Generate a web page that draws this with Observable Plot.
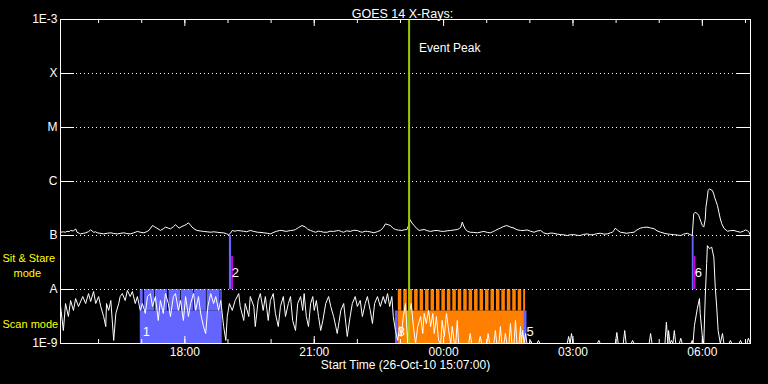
<!DOCTYPE html>
<html><head><meta charset="utf-8">
<script src="https://cdn.jsdelivr.net/npm/d3@7"></script>
<script src="https://cdn.jsdelivr.net/npm/@observablehq/plot@0.6"></script>
<style>html,body{margin:0;padding:0;background:#000;overflow:hidden}</style>
</head><body><div id="chart"></div>
<script>
// ---------- data ----------
const startUTC = Date.UTC(2010, 9, 26, 15, 7);   // 26-Oct-10 15:07:00
const spanMinutes = 960;
const titleText = "GOES 14 X-Rays:";
const xLabelText = "Start Time (26-Oct-10 15:07:00)";
const decadeValues = [1e-9, 1e-8, 1e-7, 1e-6, 1e-5, 1e-4, 1e-3];
const decadeLabels = ["1E-9", "A", "B", "C", "M", "X", "1E-3"];
const timeTickLabels = ["18:00", "21:00", "00:00", "03:00", "06:00"];
const timeTickMinutes = [173, 353, 533, 713, 893];          // minutes after start
const hourTickMinutes = [53,113,173,233,293,353,413,473,533,593,653,713,773,833,893,953];
const peakMinute = 485;                                      // 23:12 event peak

// long channel (1-8 A), [minutes after start, flux in 1e-9 W/m^2]
const longChannel = [
[0,115],[4,117],[7,115],[9,120],[12,118],[14,124],[18,121],[21,133],[23,115],[26,110],[28,107],[32,110],[35,112],[39,118],[42,127],[46,115],[49,117],[51,112],[55,110],[60,107],[65,110],[70,112],[74,109],[79,107],[84,110],[88,112],[92,109],[97,107],[102,112],[107,119],[111,115],[116,112],[120,118],[123,124],[128,153],[131,145],[134,137],[139,124],[143,133],[146,143],[150,137],[153,133],[157,145],[160,158],[165,137],[169,147],[172,153],[175,160],[178,172],[181,155],[183,143],[187,130],[190,124],[195,121],[199,119],[204,117],[209,115],[213,117],[218,115],[222,113],[227,112],[231,108],[234,103],[237,112],[239,124],[243,120],[246,124],[250,122],[255,120],[259,117],[264,124],[269,119],[274,115],[279,114],[283,112],[288,110],[292,107],[297,115],[301,120],[305,124],[308,124],[314,119],[320,124],
[324,125],[327,129],[331,140],[336,153],[341,143],[344,130],[348,124],[352,118],[355,115],[359,120],[362,119],[366,115],[371,115],[375,120],[380,119],[384,122],[387,124],[391,118],[394,115],[398,122],[403,119],[408,125],[413,124],[417,117],[420,115],[424,120],[427,119],[432,116],[436,112],[441,118],[445,124],[449,140],[452,164],[456,158],[459,153],[463,135],[466,129],[470,126],[475,124],[479,128],[482,129],[484,150],[486,198],[489,170],[492,153],[496,133],[499,124],[503,127],[506,129],[511,122],[515,119],[520,123],[524,124],[529,120],[533,119],[538,122],[543,124],[548,127],[552,129],[555,135],[557,143],[559,177],[561,150],[563,133],[566,120],[570,115],[575,114],[580,112],[585,116],[589,119],[594,114],[598,112],[602,118],[605,124],[609,132],[612,137],[616,146],[621,153],[626,143],[631,137],[635,128],[640,124],
[645,124],[649,127],[654,120],[659,115],[663,121],[668,124],[672,112],[677,107],[682,111],[686,110],[691,106],[696,104],[700,103],[705,100],[709,103],[714,104],[719,101],[723,100],[728,105],[733,107],[737,103],[742,104],[746,108],[751,110],[756,106],[761,107],[765,112],[768,115],[770,125],[772,137],[775,125],[779,115],[784,112],[788,110],[793,113],[798,115],[802,127],[807,137],[811,141],[816,143],[821,138],[826,133],[830,122],[835,115],[840,110],[844,107],[849,105],[853,104],[858,102],[863,100],[867,106],[872,110],[876,104],[879,100],[881,252],[883,270],[886,255],[888,235],[891,180],[893,153],[895,143],[897,200],[898,335],[900,520],[901,681],[903,733],[905,700],[907,681],[909,580],[910,512],[912,430],[914,359],[916,270],[918,203],[920,165],[923,137],[926,126],[928,120],[932,123],[937,124],[941,119],[946,115],[950,120],[953,127],[956,122],[958,115],[960,100]
];

// short channel (0.5-4 A), [minutes after start, flux in 1e-9 W/m^2]; values < 1 sit on the axis
const shortChannel = [
[0,5.0],[4,1.74],[7,5.5],[11,3.16],[14,6.25],[18,4.1],[21,6.8],[25,4.85],[31,7.4],[35,5.5],[39,8.4],[42,6.0],[46,9.2],[49,5.5],[53,7.4],[56,4.85],[60,3.16],[63,2.06],[64,5.5],[67,4.1],[70,6.25],[74,1.14],[77,3.6],[81,5.5],[83,7.4],[86,8.4],[90,6.25],[93,9.6],[97,7.4],[100,9.2],[104,5.5],[107,7.4],[111,4.1],[114,5.5],[118,3.6],[121,7.4],[125,8.4],[128,4.85],[132,7.4],[136,2.67],[139,6.25],[143,3.6],[146,8.4],[150,5.5],[153,3.16],[157,7.4],[160,8.4],[164,4.1],[167,6.25],[171,2.67],[174,7.4],[178,3.16],[181,5.5],[185,8.4],[188,4.1],[192,7.4],[195,3.6],[199,2.06],[202,1.53],[205,4.85],[209,8.4],[213,5.5],[216,7.4],[220,4.1],[223,6.25],[227,2.06],[230,1.14],[232,3.16],[235,5.5],[239,4.1],[243,6.25],[248,8.4],[250,4.85],[255,2.67],[257,5.5],[262,3.16],[264,7.4],[269,4.85],[271,2.06],[275,6.25],[278,8.4],[282,4.1],[285,7.4],[289,2.67],[292,6.25],[296,8.4],[299,3.6],[303,2.06],[306,4.85],[310,7.4],[313,3.16],[317,5.5],
[320,7.4],[323,2.67],[327,1.74],[330,5.5],[334,7.4],[337,4.1],[339,8.4],[342,3.16],[345,2.06],[348,5.5],[351,7.4],[353,4.1],[356,6.25],[359,3.16],[362,1.74],[365,2.67],[369,5.5],[373,7.4],[376,4.85],[380,3.16],[383,2.06],[385,1.53],[390,4.1],[394,5.5],[397,2.34],[399,1.35],[403,3.16],[406,5.5],[410,7.4],[413,4.85],[417,6.25],[420,3.16],[424,5.5],[427,7.4],[431,4.1],[434,2.34],[437,5.5],[441,7.4],[445,4.85],[449,7.4],[452,5.5],[455,8.4],[458,4.85],[461,7.4],[463,3.16],[466,1.74],[469,1.14],[472,2.06],[474,1.35],[477,3.16],[480,5.5],[483,0.8],[486,4.1],[488,5.5],[491,2.06],[494,0.8],[497,2.06],[501,3.16],[504,1.53],[506,3.6],[509,2.34],[512,4.1],[515,2.06],[518,3.6],[520,1.53],[523,3.16],[526,1.14],[529,0.8],[531,2.67],[534,1.35],[537,3.6],[540,1.74],[543,0.8],[545,2.06],[548,0.8],[550,0.8],[552,2.67],[554,0.8],
[568,0.8],[570,1.53],[572,0.8],[582,0.8],[584,1.35],[586,0.8],[593,0.8],[595,1.53],[597,0.8],[603,0.8],[605,1.74],[607,0.8],[610,0.8],[612,2.06],[614,0.8],[617,0.8],[619,1.53],[621,0.8],[624,0.8],[626,2.34],[628,0.8],[631,0.8],[633,2.67],[635,0.8],[638,0.8],[640,2.06],[641,0.8],[643,1.74],[645,0.8],[647,1.53],[649,0.8],[652,0.8],[654,1.14],[656,0.8],[663,0.8],[665,1.14],[667,0.8],[705,0.8],[707,1.35],[709,0.8],[711,1.53],[713,0.8],[747,0.8],[749,1.14],[751,0.8],[772,0.8],[774,1.6],[776,0.8],[783,0.8],[785,1.74],[787,0.8],[794,0.8],[796,1.14],[798,0.8],[819,0.8],[821,1.53],[823,0.8],[841,0.8],[843,2.48],[845,0.8],[846,1.74],[848,0.8],[850,1.14],[852,0.8],[854,1.74],[856,0.8],[861,0.8],[863,1.25],[865,0.8],[877,0.8],[879,1.14],[880,0.8],[882,2.15],[886,4.45],[889,6.8],[890,3.6],[893,1.35],[895,0.8],[897,7.2],[899,30.4],[900,65],[903,57],[906,61],[909,39.6],[911,11.0],[913,4.7],[915,1.74],[918,0.8],[921,1.53],[923,0.8],[930,0.8],[932,1.14],[934,0.8],[944,0.8],[946,1.14],[948,0.8],[955,0.8],[957,1.25],[960,0.8]
];

// observing blocks: scan mode (lower band) and sit & stare (A-B band)
const scanBlue   = [{id:"1", t1:111, t2:225}, {id:"3", t1:466, t2:470}, {id:"5", t1:645, t2:649}];
const scanOrange = [{id:"4", t1:470, t2:647}];
const blueRasters = [[111,115],[117,131],[132,149],[151,167],[168,185],[186,203],[204,222],[223,225]];
const orangeRasterStarts = [470,477.6,485.1,492.7,500.3,507.9,515.5,523.1,530.6,538.2,545.8,553.4,561.0,568.5,576.1,583.7,591.3,598.9,606.5,614.0,621.6,629.2,636.8,644.4];
const orangeRasterMinutes = 4.9;
const sitStareBlue    = [{id:"2", t1:235, t2:238}, {id:"6", t1:879, t2:881.5}];
const sitStareMagenta = [{t1:238, t2:240.7}, {t1:881.5, t2:884}];
const scanBandTop = 4e-9, magentaTop = 4.1e-8;
const scanLabelLevel = 1.67e-9, sitLabelLevel = 2.06e-8;
const modeLabels = [{text:"Sit & Stare", y:3.75e-8}, {text:"Scan mode", y:2.25e-9}];
const modeLabels2 = [{text:"mode", y:2.0e-8}];

// ---------- chart ----------
const T = m => new Date(startUTC + m * 60000);
const NW = 1e-9;
const W = 768, H = 384, mL = 60, mR = 18, mT = 19, mB = 41;
const plotW = W - mL - mR, plotH = H - mT - mB;
const BLUE = "#6464ff", ORANGE = "#ff8000", MAGENTA = "#cc00cc", GREEN = "#9ccc00", YELLOW = "#ffff00";

const longData = longChannel.map(([m, v]) => ({time: T(m), flux: v * NW}));
const shortData = shortChannel.map(([m, v]) => ({time: T(m), flux: v * NW}));
const orangeRasters = orangeRasterStarts.map(s => [s, Math.min(s + orangeRasterMinutes, scanOrange[0].t2)]);
const inner = decadeValues.slice(1, -1);
const decades = decadeValues.map((v, i) => ({v, label: decadeLabels[i]}));
const timeTicks = timeTickMinutes.map((m, i) => ({time: T(m), label: timeTickLabels[i]}));

const chart = Plot.plot({
  width: W, height: H,
  marginLeft: mL, marginRight: mR, marginTop: mT, marginBottom: mB,
  style: {background: "#000", color: "#fff", fontFamily: "Liberation Sans, Arial, sans-serif", fontSize: "11px"},
  x: {type: "utc", domain: [T(0), T(spanMinutes)], axis: null},
  y: {type: "log", domain: [decadeValues[0], decadeValues[decadeValues.length - 1]], clamp: true, axis: null},
  marks: [
    // scan mode blocks
    Plot.rect(scanOrange, {x1: d => T(d.t1), x2: d => T(d.t2), y1: () => decadeValues[0], y2: () => scanBandTop, fill: ORANGE}),
    Plot.rect(orangeRasters, {x1: d => T(d[0]), x2: d => T(d[1]), y1: () => scanBandTop, y2: () => decadeValues[1], fill: ORANGE}),
    Plot.rect(scanBlue, {x1: d => T(d.t1), x2: d => T(d.t2), y1: () => decadeValues[0], y2: () => scanBandTop, fill: BLUE}),
    Plot.rect(blueRasters, {x1: d => T(d[0]), x2: d => T(d[1]), y1: () => scanBandTop, y2: () => decadeValues[1], fill: BLUE}),
    // sit & stare
    Plot.rect(sitStareBlue, {x1: d => T(d.t1), x2: d => T(d.t2), y1: () => decadeValues[1], y2: () => decadeValues[2], fill: BLUE}),
    Plot.rect(sitStareMagenta, {x1: d => T(d.t1), x2: d => T(d.t2), y1: () => decadeValues[1], y2: () => magentaTop, fill: MAGENTA}),
    // grid & ticks
    Plot.ruleY(inner, {stroke: "#fff", strokeDasharray: "1,3"}),
    Plot.tickY(inner, {stroke: "#fff", insetRight: plotW - 14}),
    Plot.tickY(inner, {stroke: "#fff", insetLeft: plotW - 13}),
    Plot.tickX(hourTickMinutes.map(T), {stroke: "#fff", insetTop: plotH - 4}),
    Plot.tickX(hourTickMinutes.map(T), {stroke: "#fff", insetBottom: plotH - 4}),
    Plot.tickX(timeTickMinutes.map(T), {stroke: "#fff", insetTop: plotH - 7}),
    Plot.tickX(timeTickMinutes.map(T), {stroke: "#fff", insetBottom: plotH - 7}),
    // data
    Plot.line(shortData, {x: "time", y: "flux", stroke: "#fff", strokeWidth: 1}),
    Plot.line(longData, {x: "time", y: "flux", stroke: "#fff", strokeWidth: 1}),
    // event peak
    Plot.ruleX([T(peakMinute)], {stroke: GREEN, strokeWidth: 2}),
    Plot.text([T(peakMinute)], {x: d => d, text: () => "Event Peak", frameAnchor: "top", dy: 24, dx: 10, textAnchor: "start", fill: "#fff", fontSize: 12}),
    // event numbers
    Plot.text(scanBlue, {x: d => T(d.t1), y: () => scanLabelLevel, text: "id", dx: 6, fill: "#fff", fontSize: 13}),
    Plot.text(sitStareBlue, {x: d => T(d.t1), y: () => sitLabelLevel, text: "id", dx: 6, fill: "#fff", fontSize: 13}),
    // axes labels
    Plot.text(decades, {y: "v", text: "label", frameAnchor: "left", dx: -3, textAnchor: "end", fill: "#fff", fontSize: 12}),
    Plot.text(timeTicks, {x: "time", text: "label", frameAnchor: "bottom", dy: 12, fill: "#fff", fontSize: 12}),
    Plot.text([xLabelText], {text: d => d, frameAnchor: "bottom", dy: 25, fill: "#fff", fontSize: 12}),
    Plot.text([titleText], {text: d => d, frameAnchor: "top", dy: -10, dx: -3, fill: "#fff", fontSize: 12.5}),
    Plot.text(modeLabels, {y: "y", text: "text", frameAnchor: "left", dx: -58, textAnchor: "start", fill: YELLOW, fontSize: 11}),
    Plot.text(modeLabels2, {y: "y", text: "text", frameAnchor: "left", dx: -47, textAnchor: "start", fill: YELLOW, fontSize: 11}),
    Plot.frame({stroke: "#fff"})
  ]
});
document.getElementById("chart").appendChild(chart);
</script>
</body></html>
